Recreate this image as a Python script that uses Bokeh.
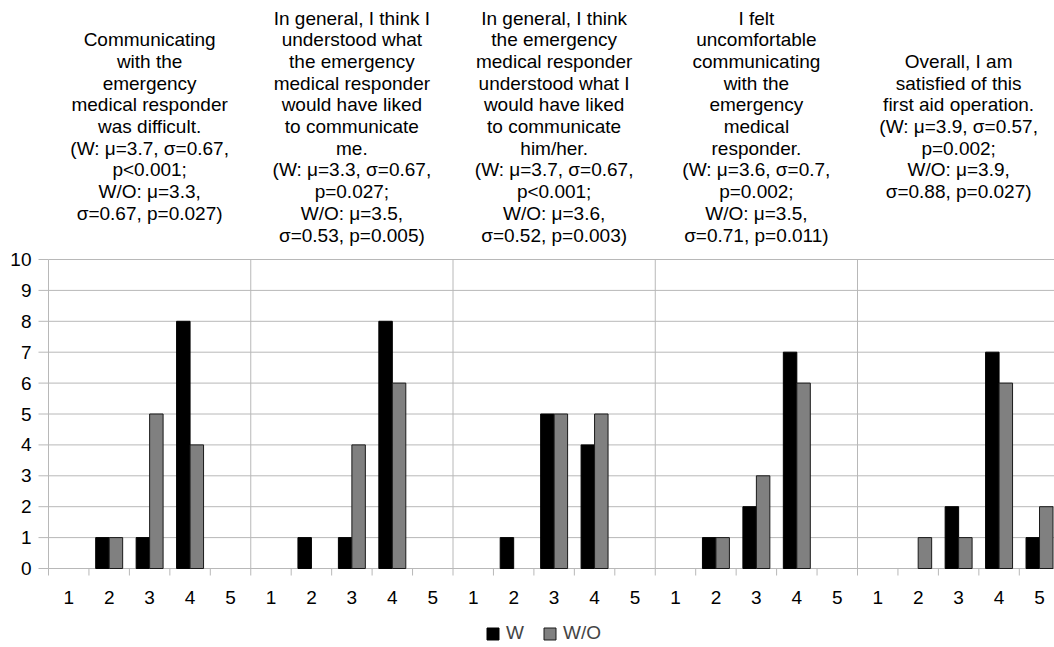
from bokeh.plotting import figure
from bokeh.models import Range1d, Legend, LegendItem, ColumnDataSource
from bokeh.core.properties import value
from bokeh.embed import file_html
from bokeh.resources import INLINE

# ---------------- data ----------------
categories = ["1", "2", "3", "4", "5"]
series_names = ["W", "W/O"]
questions = [
    "Communicating\nwith the\nemergency\nmedical responder\nwas difficult.\n(W: \u03bc=3.7, \u03c3=0.67,\np<0.001;\nW/O: \u03bc=3.3,\n\u03c3=0.67, p=0.027)",
    "In general, I think I\nunderstood what\nthe emergency\nmedical responder\nwould have liked\nto communicate\nme.\n(W: \u03bc=3.3, \u03c3=0.67,\np=0.027;\nW/O: \u03bc=3.5,\n\u03c3=0.53, p=0.005)",
    "In general, I think\nthe emergency\nmedical responder\nunderstood what I\nwould have liked\nto communicate\nhim/her.\n(W: \u03bc=3.7, \u03c3=0.67,\np<0.001;\nW/O: \u03bc=3.6,\n\u03c3=0.52, p=0.003)",
    "I felt\nuncomfortable\ncommunicating\nwith the\nemergency\nmedical\nresponder.\n(W: \u03bc=3.6, \u03c3=0.7,\np=0.002;\nW/O: \u03bc=3.5,\n\u03c3=0.71, p=0.011)",
    "Overall, I am\nsatisfied of this\nfirst aid operation.\n(W: \u03bc=3.9, \u03c3=0.57,\np=0.002;\nW/O: \u03bc=3.9,\n\u03c3=0.88, p=0.027)",
]
w_counts = [
    [0, 1, 1, 8, 0],
    [0, 1, 1, 8, 0],
    [0, 1, 5, 4, 0],
    [0, 1, 2, 7, 0],
    [0, 0, 2, 7, 1],
]
wo_counts = [
    [0, 1, 5, 4, 0],
    [0, 0, 4, 6, 0],
    [0, 0, 5, 5, 0],
    [0, 1, 3, 6, 0],
    [0, 1, 1, 6, 2],
]
y_ticks = list(range(0, 11))

# ---------------- layout constants (pixels) ----------------
W, H = 1054, 647
PX_X = 40.45          # pixels per category slot
PX_Y = 30.9           # pixels per count unit
ORIGIN_X = 48         # page x of the value axis
ORIGIN_Y = 568        # page y of zero
GRID = "#b8b8b8"
FONT = value("Liberation Sans")
FS = "19px"

n_cat = len(categories)
n_grp = len(questions)
n_slot = n_cat * n_grp
BAR_W = 1.0 / 3.0
y_max = max(y_ticks)

x0 = -ORIGIN_X / PX_X
y0 = -(H - ORIGIN_Y) / PX_Y
p = figure(width=W, height=H, output_backend="svg", toolbar_location=None,
           x_range=Range1d(x0, x0 + W / PX_X), y_range=Range1d(y0, y0 + H / PX_Y),
           min_border=0, min_border_left=0, min_border_right=0,
           min_border_top=0, min_border_bottom=0)
p.outline_line_color = None
p.axis.visible = False
p.grid.visible = False
p.background_fill_color = "white"

# ---------------- gridlines / axis lines ----------------
p.segment(x0=[0] * len(y_ticks), y0=y_ticks, x1=[n_slot] * len(y_ticks), y1=y_ticks,
          line_color=GRID, line_width=1)
grp_bounds = [g * n_cat for g in range(n_grp + 1)]
p.segment(x0=grp_bounds, y0=[0] * len(grp_bounds), x1=grp_bounds,
          y1=[y_max] * len(grp_bounds), line_color=GRID, line_width=1)
# y tick marks
p.segment(x0=[-10 / PX_X] * len(y_ticks), y0=y_ticks, x1=[0] * len(y_ticks), y1=y_ticks,
          line_color=GRID, line_width=1)
# x tick marks at slot boundaries
slot_bounds = list(range(n_slot + 1))
p.segment(x0=slot_bounds, y0=[0] * len(slot_bounds), x1=slot_bounds,
          y1=[-7 / PX_Y] * len(slot_bounds), line_color=GRID, line_width=1)

# ---------------- bars ----------------
w_x, w_top, wo_x, wo_top, centers, labels = [], [], [], [], [], []
for g in range(n_grp):
    for c in range(n_cat):
        cx = g * n_cat + c + 0.5
        centers.append(cx)
        labels.append(categories[c])
        if w_counts[g][c] > 0:
            w_x.append(cx - BAR_W / 2)
            w_top.append(w_counts[g][c])
        if wo_counts[g][c] > 0:
            wo_x.append(cx + BAR_W / 2)
            wo_top.append(wo_counts[g][c])

r_w = p.vbar(x="x", top="top", width=BAR_W, source=ColumnDataSource(dict(x=w_x, top=w_top)),
             fill_color="black", line_color="black", line_width=1)
r_wo = p.vbar(x="x", top="top", width=BAR_W, source=ColumnDataSource(dict(x=wo_x, top=wo_top)),
              fill_color="#808080", line_color="#1a1a1a", line_width=1)

# ---------------- tick labels ----------------
p.text(x=[-17 / PX_X] * len(y_ticks), y=y_ticks, text=[str(t) for t in y_ticks],
       text_align="right", text_baseline="middle", text_font=FONT,
       text_font_size=FS, text_color="black")
p.text(x=centers, y=[-29 / PX_Y] * len(centers), text=labels,
       text_align="center", text_baseline="middle", text_font=FONT,
       text_font_size=FS, text_color="black")

# ---------------- question titles ----------------
TITLE_Y = (ORIGIN_Y - 126) / PX_Y
LINE_H = 21.7 / PX_Y
tx, ty, tt = [], [], []
for g, q in enumerate(questions):
    lines = q.split("\n")
    n = len(lines)
    for i, line in enumerate(lines):
        tx.append(g * n_cat + n_cat / 2)
        ty.append(TITLE_Y + ((n - 1) / 2 - i) * LINE_H)
        tt.append(line)
p.text(x=tx, y=ty, text=tt, text_align="center", text_baseline="middle",
       text_font=FONT, text_font_size=FS, text_color="black")

# ---------------- legend ----------------
legend = Legend(items=[LegendItem(label=series_names[0], renderers=[r_w]),
                       LegendItem(label=series_names[1], renderers=[r_wo])],
                orientation="horizontal", location=(485, 3),
                glyph_width=15, glyph_height=15, label_standoff=6, spacing=16,
                padding=0, margin=0, border_line_color=None,
                background_fill_alpha=0, label_text_font="Liberation Sans",
                label_text_font_size=FS)
p.add_layout(legend, "center")

open("out.html", "w").write(file_html(p, INLINE))
